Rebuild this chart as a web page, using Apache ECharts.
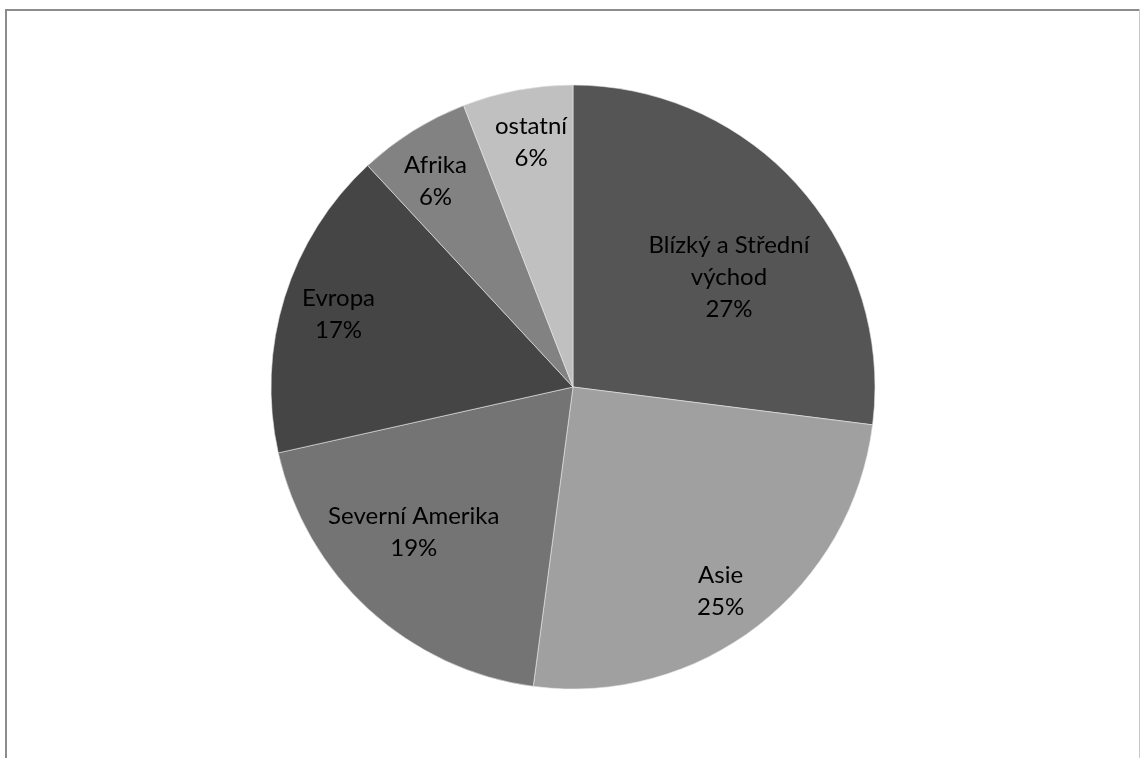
<!DOCTYPE html>
<html>
<head>
<meta charset="utf-8">
<script src="https://cdn.jsdelivr.net/npm/echarts@6/dist/echarts.min.js"></script>
<style>
html,body{margin:0;padding:0;background:#fff;}
#chart{width:1140px;height:758px;}
</style>
</head>
<body>
<div id="chart"></div>
<script>
// Data
var categories = ['Blízký a Střední\nvýchod', 'Asie', 'Severní Amerika', 'Evropa', 'Afrika', 'ostatní'];
var shares = [27.0, 25.1, 19.4, 16.6, 6.0, 5.9];

// Styles
var sliceColors = ['#555555', '#a0a0a0', '#747474', '#454545', '#828282', '#c0c0c0'];
var labelRadiusFrac = [0.632, 0.835, 0.713, 0.813, 0.82, 0.823];
var labelAngleShiftDeg = [6.2, 1.8, 5.2, 0, -1.7, 0.9];

var CX = 573, CY = 387, R = 302;

var chart = echarts.init(document.getElementById('chart'), null, {renderer: 'canvas'});

var total = shares.reduce(function(a, b){ return a + b; }, 0);
function midAngle(i){
  var cum = 0;
  for (var k = 0; k < i; k++) cum += shares[k];
  return ((cum + shares[i] / 2) / total) * 2 * Math.PI;
}

var data = categories.map(function(name, i){
  return {name: name, value: shares[i], itemStyle: {color: sliceColors[i]}};
});

chart.setOption({
  animation: false,
  backgroundColor: '#ffffff',
  graphic: [
    {type: 'line', shape: {x1: 6, y1: 9, x2: 6, y2: 760}, style: {stroke: '#8c8c8c', lineWidth: 2}},
    {type: 'line', shape: {x1: 5, y1: 10, x2: 1139, y2: 10}, style: {stroke: '#8c8c8c', lineWidth: 2}},
    {type: 'line', shape: {x1: 1139.5, y1: 9, x2: 1139.5, y2: 760}, style: {stroke: '#c8c8c8', lineWidth: 1}}
  ],
  series: [{
    type: 'pie',
    center: [CX, CY],
    radius: [0, R],
    startAngle: 90,
    clockwise: true,
    avoidLabelOverlap: false,
    percentPrecision: 0,
    data: data,
    itemStyle: {borderColor: '#e8e8e8', borderWidth: 0.6},
    label: {
      show: true,
      position: 'inside',
      formatter: '{b}\n{d}%',
      color: '#000000',
      fontFamily: 'Lato',
      fontSize: 24,
      lineHeight: 32,
      align: 'center'
    },
    labelLine: {show: false},
    labelLayout: function(params){
      var i = params.dataIndex;
      var a = midAngle(i) + labelAngleShiftDeg[i] * Math.PI / 180;
      var f = labelRadiusFrac[i];
      return {
        x: CX + f * R * Math.sin(a),
        y: CY - f * R * Math.cos(a),
        align: 'center',
        verticalAlign: 'middle'
      };
    },
    emphasis: {disabled: true}
  }]
});
</script>
</body>
</html>
